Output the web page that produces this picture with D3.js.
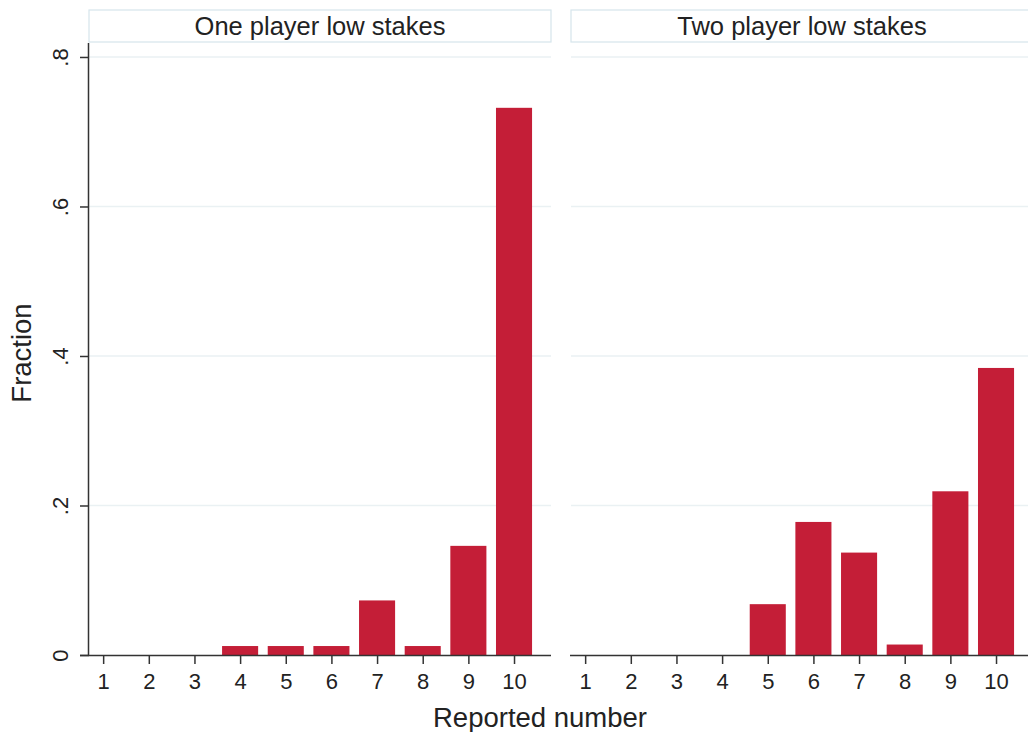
<!DOCTYPE html>
<html>
<head>
<meta charset="utf-8">
<script src="https://cdn.jsdelivr.net/npm/d3@7"></script>
<style>
  html, body { margin: 0; padding: 0; background: #fff; }
  svg { display: block; font-family: "Liberation Sans", Arial, Helvetica, sans-serif; }
</style>
</head>
<body>
<svg id="chart" width="1028" height="732"></svg>
<script>
// ---- data ----
const categories = [1, 2, 3, 4, 5, 6, 7, 8, 9, 10];
const panelTitles = ["One player low stakes", "Two player low stakes"];
const onePlayerLow = [0, 0, 0, 0.012, 0.012, 0.012, 0.073, 0.012, 0.146, 0.732];
const twoPlayerLow = [0, 0, 0, 0, 0.068, 0.178, 0.137, 0.014, 0.219, 0.384];
const yTickValues = [0, 0.2, 0.4, 0.6, 0.8];
const yTickLabels = ["0", ".2", ".4", ".6", ".8"];
const xTitle = "Reported number";
const yTitle = "Fraction";

// ---- layout ----
const svg = d3.select("#chart");
const plotTop = 43, plotBottom = 655;
const panelW = 462;
const panelX = [89, 571];
const barColor = "#c41e37";
const gridColor = "#eaf1f3";
const axisColor = "#333";
const textColor = "#222";

const y = d3.scaleLinear().domain([0, 0.8187]).range([plotBottom, plotTop]);
const x = d3.scaleLinear().domain([0.69, 10.81]).range([0, panelW]);
const barWidthUnits = 0.79;

const series = [onePlayerLow, twoPlayerLow];

series.forEach((vals, p) => {
  const g = svg.append("g").attr("transform", `translate(${panelX[p]},0)`);

  // header box
  g.append("rect")
    .attr("x", 0).attr("y", 10)
    .attr("width", panelW).attr("height", 32)
    .attr("fill", "#fff")
    .attr("stroke", "#d6e5ec").attr("stroke-width", 1.2);
  g.append("text")
    .attr("x", panelW / 2).attr("y", 25.5)
    .attr("text-anchor", "middle").attr("dominant-baseline", "central")
    .attr("font-size", 25.5).attr("fill", textColor)
    .text(panelTitles[p]);

  // gridlines
  g.selectAll("line.grid")
    .data(yTickValues.filter(v => v > 0))
    .enter().append("line")
    .attr("class", "grid")
    .attr("x1", 0).attr("x2", panelW)
    .attr("y1", d => y(d)).attr("y2", d => y(d))
    .attr("stroke", gridColor).attr("stroke-width", 1.5);

  // bars
  const bw = x(1 + barWidthUnits) - x(1);
  g.selectAll("rect.bar")
    .data(categories.map((c, i) => ({ c, v: vals[i] })).filter(d => d.v > 0))
    .enter().append("rect")
    .attr("class", "bar")
    .attr("x", d => x(d.c) - bw / 2)
    .attr("width", bw)
    .attr("y", d => y(d.v))
    .attr("height", d => y(0) - y(d.v))
    .attr("fill", barColor);

  // x axis
  const xAxis = d3.axisBottom(x).tickValues(categories).tickFormat(d3.format("d"))
    .tickSize(9).tickPadding(9).tickSizeOuter(0);
  const xg = g.append("g").attr("transform", `translate(0,${plotBottom})`).call(xAxis);
  xg.select(".domain").remove();
  xg.selectAll(".tick line").attr("stroke", axisColor).attr("stroke-width", 1.5);
  xg.selectAll(".tick text").attr("font-size", 22).attr("fill", textColor)
    .attr("font-family", "'Liberation Sans', Arial, sans-serif");
  const axStart = p === 0 ? -9 : -1;
  g.append("line")
    .attr("x1", axStart).attr("x2", panelW)
    .attr("y1", plotBottom + 0.5).attr("y2", plotBottom + 0.5)
    .attr("stroke", axisColor).attr("stroke-width", 1.5);

  // y axis (left panel only)
  if (p === 0) {
    g.append("line")
      .attr("x1", -0.5).attr("x2", -0.5)
      .attr("y1", plotTop).attr("y2", plotBottom)
      .attr("stroke", axisColor).attr("stroke-width", 1.5);
    const yAxis = d3.axisLeft(y).tickValues(yTickValues)
      .tickFormat((d, i) => yTickLabels[i]).tickSize(9).tickSizeOuter(0);
    const yg = g.append("g").call(yAxis);
    yg.select(".domain").remove();
    yg.selectAll(".tick line").attr("stroke", axisColor).attr("stroke-width", 1.5);
    yg.selectAll(".tick text").remove();
    yg.selectAll(".tick").append("text")
      .attr("transform", "translate(-19,0) rotate(-90)")
      .attr("text-anchor", "middle")
      .attr("dy", "-0.1em")
      .attr("font-size", 22).attr("fill", textColor)
      .attr("font-family", "'Liberation Sans', Arial, sans-serif")
      .text((d, i) => yTickLabels[i]);
  }
});

// axis titles
svg.append("text")
  .attr("x", 540).attr("y", 727)
  .attr("text-anchor", "middle")
  .attr("font-size", 27.5).attr("fill", textColor)
  .text(xTitle);
svg.append("text")
  .attr("transform", "translate(31,353) rotate(-90)")
  .attr("text-anchor", "middle")
  .attr("font-size", 27.5).attr("fill", textColor)
  .text(yTitle);
</script>
</body>
</html>
